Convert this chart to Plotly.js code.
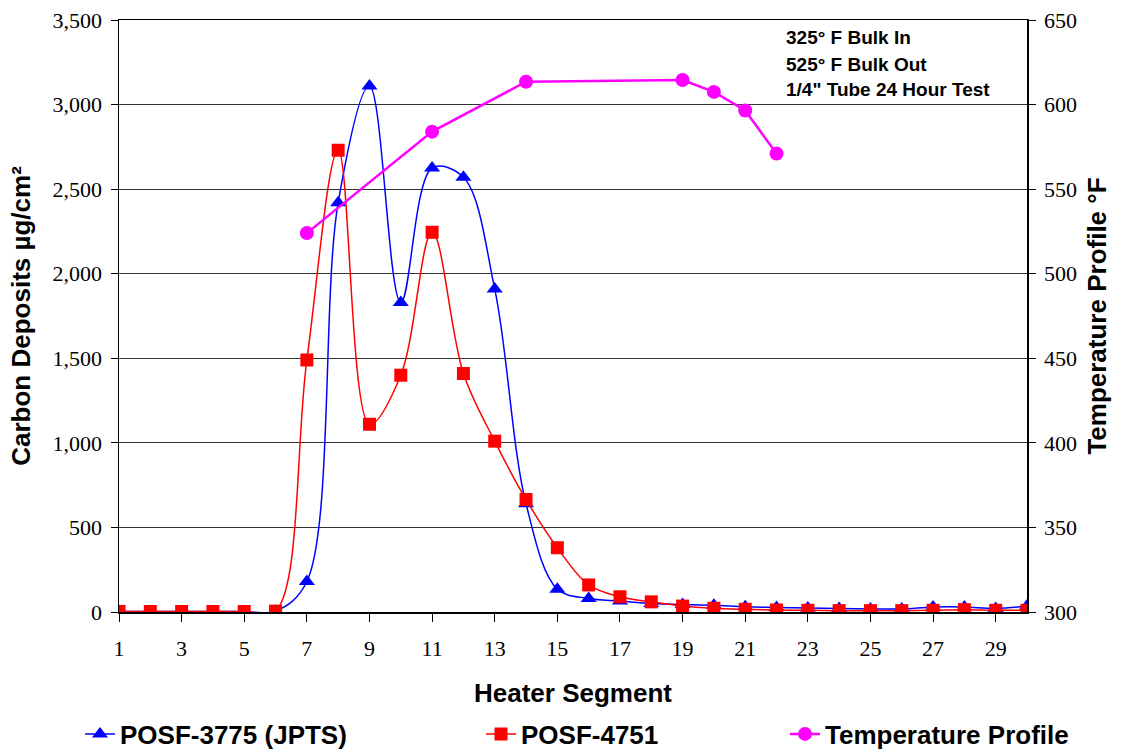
<!DOCTYPE html>
<html>
<head>
<meta charset="utf-8">
<script src="https://cdn.plot.ly/plotly-3.0.1.min.js"></script>
<style>html,body{margin:0;padding:0;background:#fff;}#chart{width:1121px;height:752px;}</style>
</head>
<body>
<div id="chart"></div>
<script>
const segments = [1,2,3,4,5,6,7,8,9,10,11,12,13,14,15,16,17,18,19,20,21,22,23,24,25,26,27,28,29,30];
const posf3775 = [3,3,3,3,3,5,180,2420,3110,1830,2625,2570,1910,640,135,80,65,50,45,40,31,27,24,21,18,18,30,30,21,35];
const posf4751 = [3,3,3,3,3,5,1490,2730,1110,1400,2245,1410,1010,665,380,160,90,60,35,22,16,12,10,8,8,8,10,14,10,10];
const tempSegments = [7,11,14,19,20,21,22];
const tempProfile = [524,584,613.5,614.5,607.5,596.5,571];
const noteLines = ["325° F Bulk In","525° F Bulk Out","1/4\" Tube 24 Hour Test"];

const titleFont = {family:"Liberation Sans, Arial, sans-serif", size:26, color:"#000", weight:"bold"};
const legendFont = {family:"Liberation Sans, Arial, sans-serif", size:26, color:"#000", weight:"bold"};
const tickFont = {family:"Liberation Serif, Times New Roman, serif", size:22, color:"#000"};

const traces = [
  {x:segments, y:posf3775, name:"<b>POSF-3775 (JPTS)</b>", type:"scatter", mode:"lines+markers",
   line:{color:"#0000FF", width:1.5, shape:"spline", smoothing:1},
   marker:{symbol:"triangle-up", size:14, color:"#0000FF"}, legend:"legend"},
  {x:segments, y:posf4751, name:"<b>POSF-4751</b>", type:"scatter", mode:"lines+markers",
   line:{color:"#FF0000", width:1.5, shape:"spline", smoothing:1},
   marker:{symbol:"square", size:13, color:"#FF0000"}, legend:"legend2"},
  {x:tempSegments, y:tempProfile, name:"<b>Temperature Profile</b>", type:"scatter", mode:"lines+markers",
   yaxis:"y2",
   line:{color:"#FF00FF", width:2.5},
   marker:{symbol:"circle", size:14, color:"#FF00FF"}, legend:"legend3"}
];

const legendBase = {orientation:"h", xref:"container", yref:"container", yanchor:"middle", xanchor:"left",
  y:1-734/752, font:legendFont, bgcolor:"rgba(0,0,0,0)", borderwidth:0};

const annotations = noteLines.map((t,i)=>({
  text:"<b>"+t+"</b>", xref:"paper", yref:"paper", x:(784-119)/908, y:(612-(38+26*i))/592,
  xanchor:"left", yanchor:"middle", showarrow:false,
  font:{family:"Liberation Sans, Arial, sans-serif", size:19, color:"#000"}
}));

const layout = {
  width:1121, height:752,
  margin:{l:119, r:94, t:20, b:140},
  paper_bgcolor:"#fff", plot_bgcolor:"#fff",
  xaxis:{range:[1,30], tick0:1, dtick:2, tickmode:"linear", showgrid:false, zeroline:false,
    showline:true, linecolor:"#000", linewidth:1.5, mirror:true,
    ticks:"outside", ticklen:8, tickcolor:"#000", tickwidth:1, tickfont:tickFont, ticklabelstandoff:8,
    title:{text:"<b>Heater Segment</b>", font:titleFont, standoff:24}},
  yaxis:{range:[0,3500], dtick:500, tickmode:"linear", tickformat:",d", showgrid:true, gridcolor:"#333", gridwidth:1,
    zeroline:false, showline:true, linecolor:"#000", linewidth:1.5,
    ticks:"outside", ticklen:7, tickcolor:"#000", tickfont:tickFont, ticklabelstandoff:4,
    title:{text:"<b>Carbon Deposits µg/cm²</b>", font:titleFont, standoff:14}},
  yaxis2:{range:[300,650], dtick:50, tickmode:"linear", overlaying:"y", side:"right", showgrid:false,
    zeroline:false, showline:true, linecolor:"#000", linewidth:1.5,
    ticks:"outside", ticklen:7, tickcolor:"#000", tickfont:tickFont, ticklabelstandoff:4,
    title:{text:"<b>Temperature Profile °F</b>", font:titleFont, standoff:12}},
  legend:Object.assign({}, legendBase, {x:80/1121}),
  legend2:Object.assign({}, legendBase, {x:481/1121}),
  legend3:Object.assign({}, legendBase, {x:785/1121}),
  annotations:annotations,
  showlegend:true
};

Plotly.newPlot("chart", traces, layout, {displayModeBar:false, staticPlot:true});
</script>
</body>
</html>
